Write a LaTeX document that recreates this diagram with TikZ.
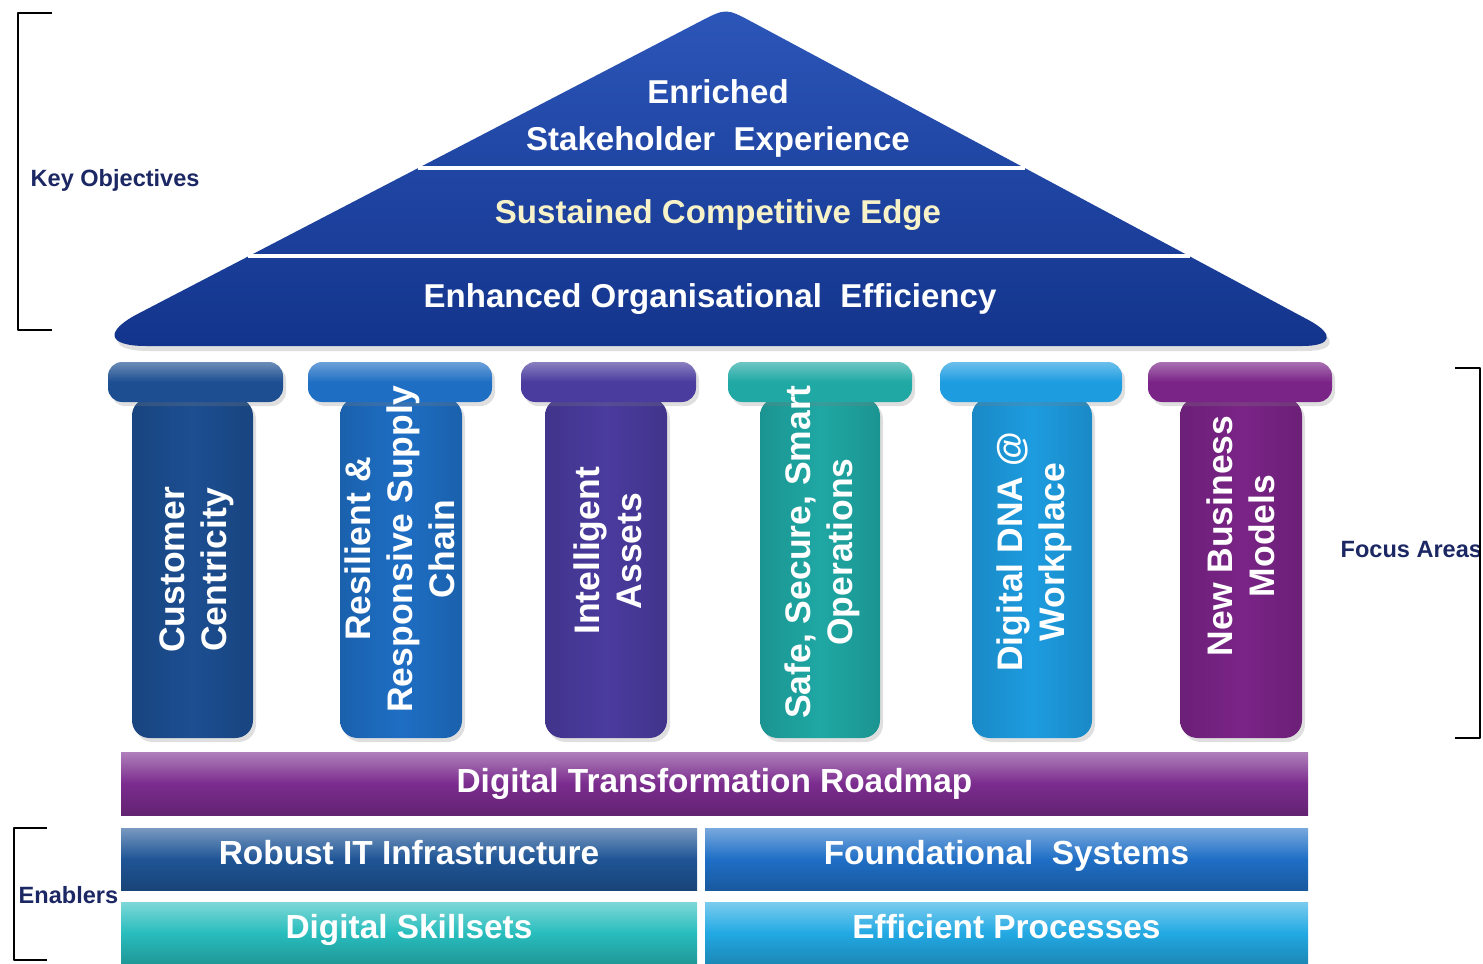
\documentclass[tikz,border=0pt]{standalone}
\usepackage{fontspec}
\setmainfont{Liberation Sans}
\usetikzlibrary{calc,shadows}

\definecolor{roofhi}{HTML}{2C56B9}
\definecolor{roofc}{HTML}{13348C}
\definecolor{pilA}{HTML}{1C4E91}
\definecolor{pilB}{HTML}{1E6EC4}
\definecolor{pilC}{HTML}{4A3B9E}
\definecolor{pilD}{HTML}{1FA8A4}
\definecolor{pilE}{HTML}{1D9CE0}
\definecolor{pilF}{HTML}{7A2487}
\definecolor{roadc}{HTML}{7B2C8E}
\definecolor{infrac}{HTML}{1F5596}
\definecolor{sysc}{HTML}{1F6FC6}
\definecolor{skillc}{HTML}{28BDBD}
\definecolor{procc}{HTML}{22A9E3}
\definecolor{labc}{HTML}{1C2864}
\definecolor{creamc}{HTML}{F8F2C8}

\begin{document}
\begin{tikzpicture}[
            roof/.style={top color=roofhi, bottom color=roofc,
                drop shadow={opacity=0.25, shadow xshift=0.03cm, shadow yshift=-0.05cm}},
            rooftxt/.style={text=white, align=center, font=\fontsize{9.4}{13.4}\selectfont\bfseries},
            sep/.style={draw=white, line width=1pt},
            shaft/.style={rectangle, rounded corners=5pt, minimum height=3.40cm, inner sep=0pt,
                left color=#1!88!black, right color=#1!88!black, middle color=#1,
                drop shadow={opacity=0.25, shadow xshift=0.03cm, shadow yshift=-0.04cm}},
            capital/.style={rectangle, rounded corners=4pt, minimum height=0.40cm, inner sep=0pt,
                top color=#1!65!white, bottom color=#1, middle color=#1,
                drop shadow={opacity=0.25, shadow xshift=0.03cm, shadow yshift=-0.04cm}},
            ptxt/.style={rotate=90, text=white, align=center, font=\fontsize{10.1}{11.9}\selectfont\bfseries},
            bar/.style={rectangle, minimum height=0.62cm, inner sep=0pt, text=white,
                text height=0.24cm, text depth=0.14cm,
                top color=#1!60!white, bottom color=#1!80!black, middle color=#1,
                font=\fontsize{9.5}{11}\selectfont\bfseries},
            side/.style={anchor=west, inner sep=0pt, text=labc, font=\fontsize{6.7}{8}\selectfont\bfseries},
            brace/.style={draw=black, line width=0.8pt, line join=round}
        ]
        \useasboundingbox (0,0) rectangle (14.83,9.63);

        % roof
        \coordinate (roofL) at (0.76,6.17);
        \coordinate (roofT) at (7.26,9.55);
        \coordinate (roofR) at (13.57,6.17);
        \path[roof] (7.2,6.17) [rounded corners=0.7cm] -- (roofL) [sharp corners] -- ($(roofT)!0.3cm!(roofL)$)
            .. controls (roofT) .. ($(roofT)!0.3cm!(roofR)$) [rounded corners=0.55cm] -- (roofR) -- cycle;
        \draw[sep] (4.18,7.95) -- (10.25,7.95);
        \draw[sep] (2.48,7.07) -- (11.90,7.07);

        \node[rooftxt] (enriched) at (7.18,8.445) {Enriched\\Stakeholder~ Experience};
        \node[rooftxt, text=creamc] (edge) at (7.18,7.48) {Sustained Competitive Edge};
        \node[rooftxt] (efficiency) at (7.10,6.64) {Enhanced Organisational~ Efficiency};

        % pillars
        \node[shaft=pilA, minimum width=1.21cm] (cust) at (1.925,3.95) {};
        \node[capital=pilA, minimum width=1.75cm] (custcap) at (1.955,5.81) {};
        \node[ptxt] at (1.97,3.93) {Customer\\Centricity};

        \node[shaft=pilB, minimum width=1.22cm] (supply) at (4.01,3.95) {};
        \node[capital=pilB, minimum width=1.84cm] (supplycap) at (4.00,5.81) {};
        \node[ptxt] at (4.00,4.14) {Resilient \&\\Responsive Supply\\Chain};

        \node[shaft=pilC, minimum width=1.22cm] (assets) at (6.06,3.95) {};
        \node[capital=pilC, minimum width=1.75cm] (assetscap) at (6.085,5.81) {};
        \node[ptxt] at (6.08,4.12) {Intelligent\\Assets};

        \node[shaft=pilD, minimum width=1.20cm] (ops) at (8.20,3.95) {};
        \node[capital=pilD, minimum width=1.84cm] (opscap) at (8.20,5.81) {};
        \node[ptxt] at (8.22,4.11) {Safe, Secure, Smart\\Operations};

        \node[shaft=pilE, minimum width=1.20cm] (dna) at (10.32,3.95) {};
        \node[capital=pilE, minimum width=1.82cm] (dnacap) at (10.31,5.81) {};
        \node[ptxt] at (10.34,4.11) {Digital DNA @\\Workplace};

        \node[shaft=pilF, minimum width=1.22cm] (biz) at (12.41,3.95) {};
        \node[capital=pilF, minimum width=1.84cm] (bizcap) at (12.40,5.81) {};
        \node[ptxt] at (12.41,4.27) {New Business\\Models};

        % base
        \node[bar=roadc, minimum width=11.87cm, minimum height=0.63cm, text depth=0.07cm] (roadmap) at (7.145,1.795) {Digital Transformation Roadmap};
        \node[bar=infrac, minimum width=5.76cm] (infra) at (4.09,1.04) {Robust IT Infrastructure};
        \node[bar=sysc, minimum width=6.03cm] (systems) at (10.065,1.04) {Foundational~ Systems};
        \node[bar=skillc, minimum width=5.76cm] (skills) at (4.09,0.30) {Digital Skillsets};
        \node[bar=procc, minimum width=6.03cm] (procs) at (10.065,0.30) {Efficient Processes};

        % side labels
        \node[side] (objectives) at (0.30,7.83) {Key Objectives};
        \node[side] (focus) at (13.40,4.13) {Focus Areas};
        \node[side] (enablers) at (0.18,0.68) {Enablers};
        \draw[brace] (0.52,9.50) -- (0.18,9.50) -- (0.18,6.33) -- (0.52,6.33);
        \draw[brace] (14.55,5.95) -- (14.80,5.95) -- (14.80,2.25) -- (14.55,2.25);
        \draw[brace] (0.47,1.35) -- (0.14,1.35) -- (0.14,0.03) -- (0.47,0.03);

    \end{tikzpicture}
\end{document}
